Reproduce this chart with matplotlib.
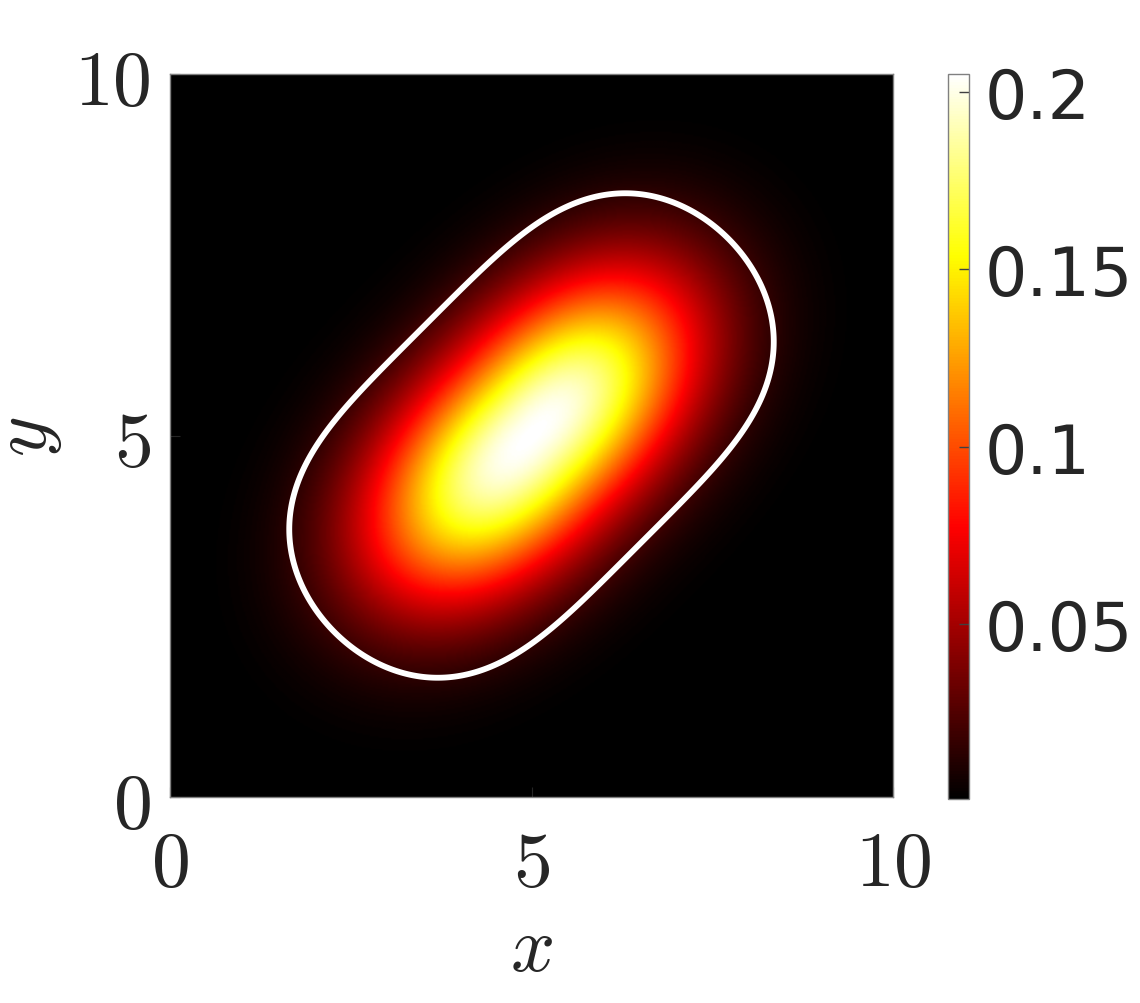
import numpy as np
import matplotlib
matplotlib.use('Agg')
import matplotlib.pyplot as plt
from matplotlib.colors import LinearSegmentedColormap

plt.rcParams['mathtext.fontset'] = 'cm'

# field parameters
center = (5.0, 5.0)
peak = 0.205           # value at the centre (white)
a_major = 2.72         # scale along the 45 deg diagonal
p_major = 2.5          # flatter than a gaussian along the diagonal
sigma_minor = 1.0      # spread across the diagonal
angle_deg = 45.0
clim = (0.0007, 0.205)

# white contour: rounded box around the diagonal
cont_a = 3.85          # half length along the diagonal
cont_b = 2.12          # half width across it
cont_p = 4.0

x_ticks = [0, 5, 10]
y_ticks = [0, 5, 10]
cb_ticks = [0.05, 0.1, 0.15, 0.2]
cb_labels = ['0.05', '0.1', '0.15', '0.2']

txt = '#262626'

# hot colormap starting from pure black (like matlab)
hot_cdict = {
    'red':   [(0, 0, 0), (0.375, 1, 1), (1, 1, 1)],
    'green': [(0, 0, 0), (0.375, 0, 0), (0.75, 1, 1), (1, 1, 1)],
    'blue':  [(0, 0, 0), (0.75, 0, 0), (1, 1, 1)],
}
hot = LinearSegmentedColormap('hot_black', hot_cdict, N=256)

# grid
n = 500
xs = np.linspace(0, 10, n)
ys = np.linspace(0, 10, n)
X, Y = np.meshgrid(xs, ys)
th = np.deg2rad(angle_deg)
u = (X - center[0]) * np.cos(th) + (Y - center[1]) * np.sin(th)
v = -(X - center[0]) * np.sin(th) + (Y - center[1]) * np.cos(th)
F = peak * np.exp(-(np.abs(u) / a_major)**p_major - v**2 / (2 * sigma_minor**2))

# level set for the contour
D = (np.abs(u) / cont_a)**cont_p + (v / cont_b)**2 - 1.0

fig = plt.figure(figsize=(11.4, 10.04), dpi=100)
ax = fig.add_axes([170/1140, 1 - 798/1004, 723/1140, 723/1004])
im = ax.imshow(F, extent=[0, 10, 0, 10], origin='lower', cmap=hot,
               vmin=clim[0], vmax=clim[1], interpolation='bilinear', aspect='auto')
ax.contour(X, Y, D, levels=[0], colors='white', linewidths=4.2)

ax.set_xlim(0, 10)
ax.set_ylim(0, 10)
ax.set_xticks(x_ticks)
ax.set_yticks(y_ticks)
ax.set_xticklabels(['$%d$' % t for t in x_ticks])
ax.set_yticklabels(['$%d$' % t for t in y_ticks])
ax.tick_params(direction='in', length=7, colors=txt, labelsize=56, labelcolor=txt)
ax.tick_params(axis='x', pad=20)
ax.tick_params(axis='y', pad=14)
for s in ax.spines.values():
    s.set_color('#808080')
    s.set_linewidth(1.0)
ax.set_xlabel('$x$', fontsize=56, color=txt, labelpad=7)
ax.set_ylabel('$y$', fontsize=56, color=txt, labelpad=7)

# colorbar
cax = fig.add_axes([948/1140, 1 - 800/1004, 21/1140, 725/1004])
cb = fig.colorbar(im, cax=cax)
cb.set_ticks(cb_ticks)
cb.set_ticklabels(cb_labels)
cb.outline.set_edgecolor('#808080')
cb.outline.set_linewidth(1.0)
cax.tick_params(direction='in', length=7, width=1, colors='#404040', labelsize=48,
                labelcolor=txt, pad=11.5)

plt.savefig('out.png', dpi=100)
